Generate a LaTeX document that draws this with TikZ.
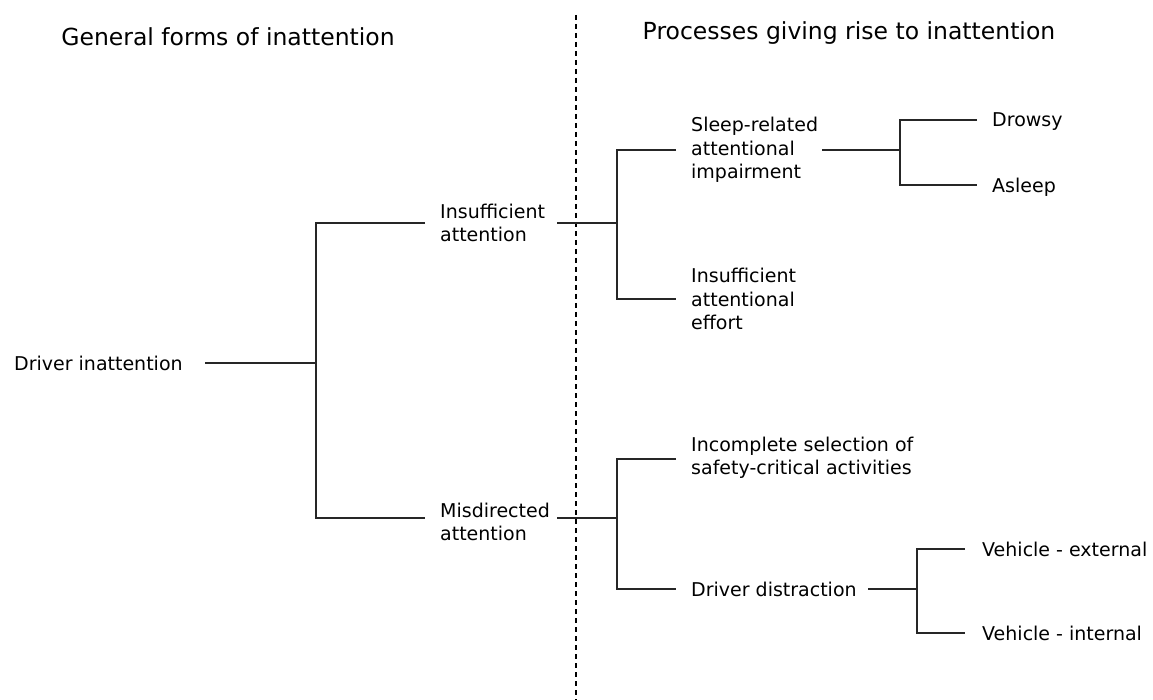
\documentclass[tikz,border=0pt]{standalone}
\usepackage{fontspec}
\setmainfont{DejaVu Sans}
\begin{document}
\begin{tikzpicture}[x=1pt,y=-1pt,
  txt/.style={anchor=west,align=left,inner xsep=15pt,inner ysep=0pt,
    font=\fontsize{19}{23.5}\selectfont},
  title/.style={anchor=center,inner sep=0pt,font=\fontsize{23.5}{28}\selectfont},
  link/.style={draw=black!85,line width=1.4pt},
  divider/.style={draw=black,line width=1.2pt,dash pattern=on 5pt off 4pt}]
\useasboundingbox (0,0) rectangle (1153,700);

% column headings and divider
\node[title] (h1) at (228,37) {General forms of inattention};
\node[title] (h2) at (849,33) {Processes giving rise to inattention};
\coordinate (dtop) at (576,15);
\coordinate (dbot) at (576,700);
\draw[divider] (dtop) -- (dbot);

% tree nodes
\node[txt,inner xsep=0pt] (di) at (14,363) {Driver inattention};
\node[txt] (ia) at (425,223) {Insufficient\\attention};
\node[txt] (ma) at (425,522) {Misdirected\\attention};
\node[txt] (sr) at (676,150) {Sleep-related\\attentional\\impairment};
\node[txt] (ie) at (676,299) {Insufficient\\attentional\\effort};
\node[txt] (dr) at (977,122) {Drowsy};
\node[txt] (as) at (977,187) {Asleep};
\node[txt] (is) at (676,458) {Incomplete selection of\\safety-critical activities};
\node[txt] (dd) at (676,589) {Driver distraction};
\node[txt,inner xsep=17pt] (ve) at (965,549) {Vehicle - external};
\node[txt,inner xsep=17pt] (vi) at (965,633) {Vehicle - internal};

% branch points and line starts
\coordinate (di-o) at (205,363);
\coordinate (j1) at (316,363);
\coordinate (ia-o) at (557,223);
\coordinate (j2) at (617,223);
\coordinate (ma-o) at (557,518);
\coordinate (j3) at (617,518);
\coordinate (sr-o) at (822,150);
\coordinate (j4) at (900,150);
\coordinate (dd-o) at (868,589);
\coordinate (j5) at (917,589);

% connectors
\draw[link] (di-o) -- (j1);
\draw[link] (ia.west |- 0,223) -| (j1) |- (ma.west |- 0,518);
\draw[link] (ia-o) -- (j2);
\draw[link] (sr.west) -| (j2) |- (ie.west);
\draw[link] (ma-o) -- (j3);
\draw[link] (is.west |- 0,459) -| (j3) |- (dd.west);
\draw[link] (sr-o) -- (j4);
\draw[link] (dr.west |- 0,120) -| (j4) |- (as.west |- 0,185);
\draw[link] (dd-o) -- (j5);
\draw[link] (ve.west) -| (j5) |- (vi.west);
\end{tikzpicture}
\end{document}
